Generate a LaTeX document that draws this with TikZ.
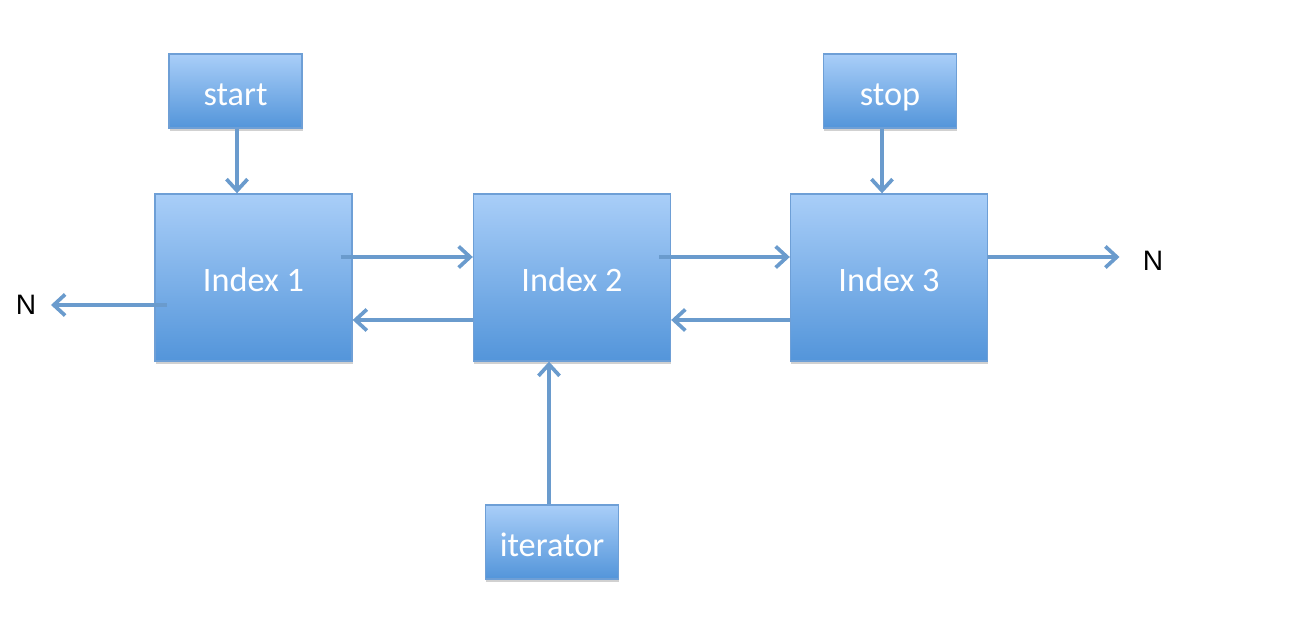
\documentclass[tikz,border=0pt]{standalone}
\usepackage{fontspec}
\setmainfont{Carlito}
\newfontfamily\labfont{Liberation Sans}
\usetikzlibrary{arrows.meta,shadows,calc}
\definecolor{boxtop}{HTML}{A9CEF8}
\definecolor{boxbot}{HTML}{5395DA}
\definecolor{boxline}{HTML}{6E9FD6}
\definecolor{arrcol}{HTML}{6A9BCD}
\tikzset{
  blockbox/.style={draw=boxline, line width=0.8pt, top color=boxtop, bottom color=boxbot,
    text=white, font=\fontsize{19.5}{21}\selectfont, text depth=0pt, text height=16.5pt,
    drop shadow={shadow xshift=0.5pt, shadow yshift=-1.5pt, opacity=0.3, fill=black!60}},
  bigbox/.style={blockbox, minimum width=3.94cm, minimum height=3.34cm},
  smallbox/.style={blockbox, minimum width=2.66cm, minimum height=1.48cm},
  arr/.style={draw=arrcol, line width=2.1pt, -{Straight Barb[length=6.5pt,width=12pt,line width=2.1pt]}},
  nlabel/.style={font=\labfont\fontsize{16}{18}\selectfont, text=black, inner sep=0pt}
}
\begin{document}
\begin{tikzpicture}[x=0.02cm,y=-0.02cm]
\useasboundingbox (0,0) rectangle (1308,624);
\node[smallbox] (st) at (235.5,91) {start};
\node[smallbox] (sp) at (890,91) {stop};
\node[bigbox] (i1) at (253.5,277.5) {Index 1};
\node[bigbox] (i2) at (572,277.5) {Index 2};
\node[bigbox] (i3) at (889,277.5) {Index 3};
\node[smallbox] (it) at (552,542) {iterator};
\node[nlabel] (nL) at (26,305) {N};
\node[nlabel] (nR) at (1153,261) {N};
% vertical arrows
\draw[arr] ([xshift=0.03cm]st.south) -- ([xshift=0.03cm]st.south |- i1.north);
\draw[arr] ([xshift=-0.16cm]sp.south) -- ([xshift=-0.16cm]sp.south |- i3.north);
\draw[arr] ([xshift=-0.06cm]it.north) -- ([xshift=-0.06cm]it.north |- i2.south);
% horizontal arrows
\draw[arr] ([xshift=-0.24cm,yshift=0.41cm]i1.east) -- ([yshift=0.41cm]i2.west);
\draw[arr] ([yshift=-0.85cm]i2.west) -- ([yshift=-0.85cm]i1.east);
\draw[arr] ([xshift=-0.24cm,yshift=0.41cm]i2.east) -- ([yshift=0.41cm]i3.west);
\draw[arr] ([yshift=-0.85cm]i3.west) -- ([yshift=-0.85cm]i2.east);
\draw[arr, shorten >=0.46cm] ([yshift=0.41cm]i3.east) -- ([yshift=0.41cm]i3.east -| nR.west);
\draw[arr, shorten >=0.03cm] ([xshift=0.26cm,yshift=-0.55cm]i1.west) -- ([xshift=0.26cm,yshift=-0.55cm]i1.west -| nL.east);
\end{tikzpicture}
\end{document}
